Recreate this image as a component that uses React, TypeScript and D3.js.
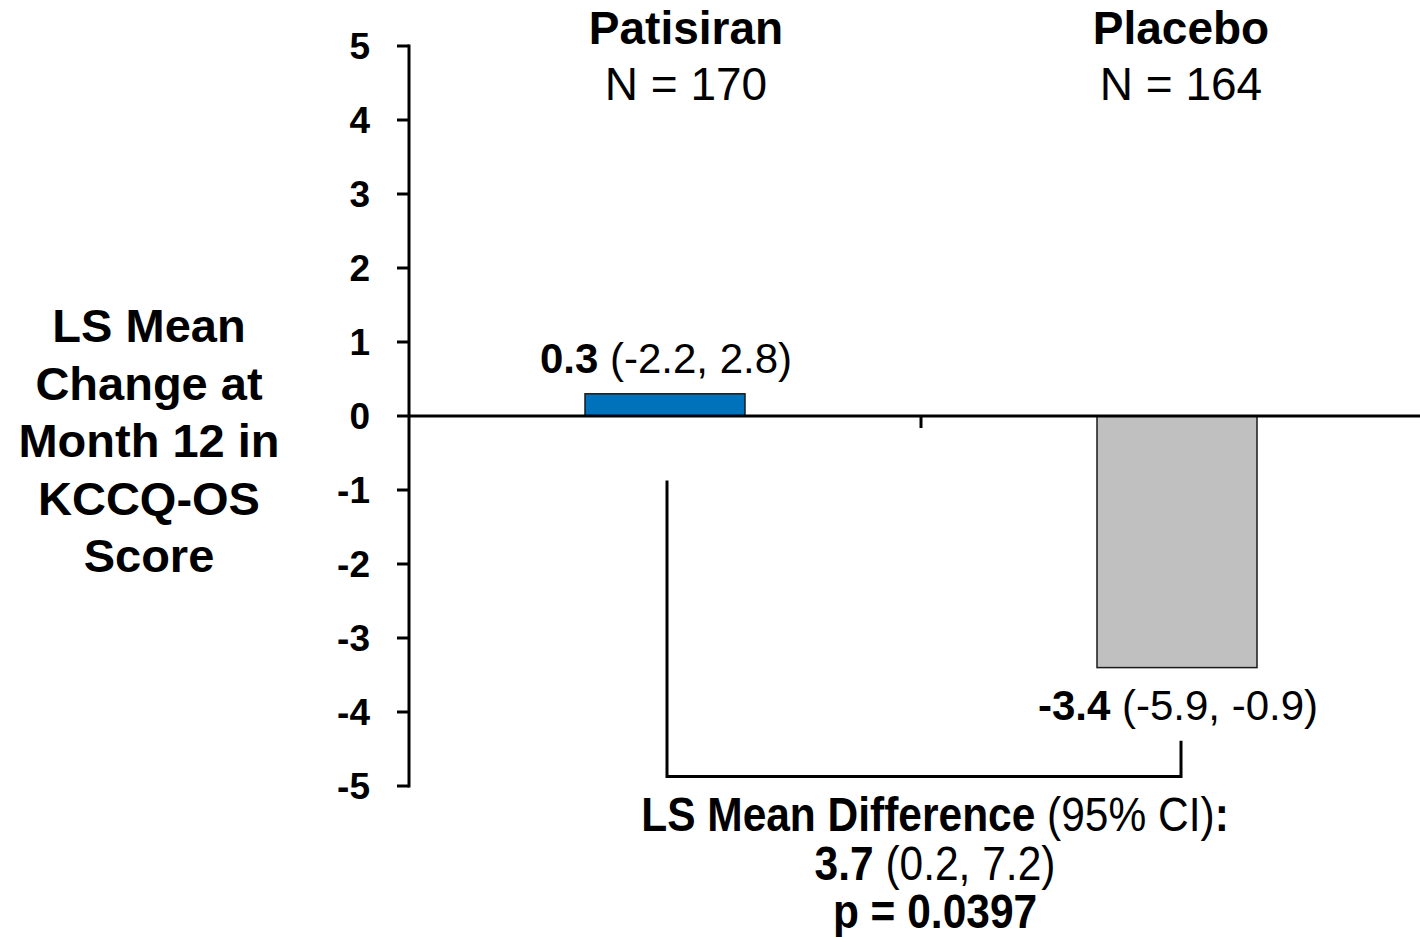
import React from "react";
import * as d3 from "d3";

// Treatment arms and their least-squares mean change with 95% CI
const arms = ["Patisiran", "Placebo"];
const armN = [170, 164];
const lsMean = [0.3, -3.4];
const ciLow = [-2.2, -5.9];
const ciHigh = [2.8, -0.9];
const barColors = ["#0072BC", "#C0C0C0"];

// Y axis ticks
const yTicks = [5, 4, 3, 2, 1, 0, -1, -2, -3, -4, -5];

// Treatment difference summary
const diffValue = 3.7;
const diffCiLow = 0.2;
const diffCiHigh = 7.2;
const pValue = "0.0397";

const yTitleLines = ["LS Mean", "Change at", "Month 12 in", "KCCQ-OS", "Score"];

const W = 1420;
const H = 937;
const FONT = "'Liberation Sans', Arial, Helvetica, sans-serif";

const fmt = (v: number) => v.toFixed(1);

export default function App() {
  const y = d3.scaleLinear().domain([-5, 5]).range([786, 46]);
  const x = d3.scaleBand().domain(arms).range([409, 1433]).paddingInner(0).paddingOuter(0);
  const barW = 160;
  const cx = (a: string) => (x(a) as number) + x.bandwidth() / 2;
  const axisX = 409;
  const zeroY = y(0);

  const headerShift = [21, 4];
  const bracketX = [cx(arms[0]) + 2, cx(arms[1]) + 4];
  const bracketBottom = y(-4.87);
  const bracketTopLeft = y(-0.87);
  const bracketTopRight = y(-4.39);

  return (
    <svg width={W} height={H} style={{ display: "block", position: "absolute", left: 0, top: 0 }} fontFamily={FONT}>
      <rect x={0} y={0} width={W} height={H} fill="#fff" />

      {/* Y axis title */}
      <text x={149} y={342} textAnchor="middle" fontSize={47} fontWeight="bold" fill="#000">
        {yTitleLines.map((l, i) => (
          <tspan key={i} x={149} y={342 + i * 57.5}>
            {l}
          </tspan>
        ))}
      </text>

      {/* Bars */}
      {arms.map((a, i) => {
        const v = lsMean[i];
        const top = y(Math.max(0, v));
        const bot = y(Math.min(0, v));
        return (
          <rect
            key={a}
            x={cx(a) - barW / 2}
            y={top}
            width={barW}
            height={bot - top}
            fill={barColors[i]}
            stroke="#1a1a1a"
            strokeWidth={1.5}
          />
        );
      })}

      {/* Y axis line and ticks */}
      <line x1={axisX} x2={axisX} y1={y(5) - 1.5} y2={y(-5) + 1.5} stroke="#000" strokeWidth={3} />
      {yTicks.map((t) => (
        <g key={t}>
          <line x1={axisX - 12} x2={axisX} y1={y(t)} y2={y(t)} stroke="#000" strokeWidth={3} />
          <text
            x={370}
            y={y(t)}
            dy="0.36em"
            textAnchor="end"
            fontSize={37}
            fontWeight="bold"
            fill="#000"
          >
            {t}
          </text>
        </g>
      ))}

      {/* Zero line with category separator */}
      <line x1={axisX} x2={W} y1={zeroY} y2={zeroY} stroke="#000" strokeWidth={3} />
      <line x1={x(arms[1]) as number} x2={x(arms[1]) as number} y1={zeroY} y2={zeroY + 12} stroke="#000" strokeWidth={3} />

      {/* Arm headers */}
      {arms.map((a, i) => (
        <g key={a}>
          <text x={cx(a) + headerShift[i]} y={44} textAnchor="middle" fontSize={46} fontWeight="bold" fill="#000">
            {a}
          </text>
          <text x={cx(a) + headerShift[i]} y={100} textAnchor="middle" fontSize={46} fill="#000">
            N = {armN[i]}
          </text>
        </g>
      ))}

      {/* Value labels */}
      {arms.map((a, i) => {
        const v = lsMean[i];
        const ly = v >= 0 ? y(v) - 21 : y(v) + 52;
        return (
          <text key={a} x={cx(a) + 1} y={ly} textAnchor="middle" fontSize={42} fill="#000">
            <tspan fontWeight="bold">{fmt(v)}</tspan>
            <tspan>{` (${fmt(ciLow[i])}, ${fmt(ciHigh[i])})`}</tspan>
          </text>
        );
      })}

      {/* Difference bracket */}
      <path
        d={`M${bracketX[0]},${bracketTopLeft}V${bracketBottom}H${bracketX[1]}V${bracketTopRight}`}
        fill="none"
        stroke="#000"
        strokeWidth={3}
      />

      {/* Difference summary (condensed lettering) */}
      <g transform="translate(935,0) scale(0.885,1)" fill="#000" fontSize={48}>
        <text x={0} y={831} textAnchor="middle">
          <tspan fontWeight="bold">LS Mean Difference</tspan>
          <tspan> (95% CI)</tspan>
          <tspan fontWeight="bold">:</tspan>
        </text>
        <text x={0} y={880} textAnchor="middle">
          <tspan fontWeight="bold">{fmt(diffValue)}</tspan>
          <tspan>{` (${fmt(diffCiLow)}, ${fmt(diffCiHigh)})`}</tspan>
        </text>
        <text x={0} y={928} textAnchor="middle" fontWeight="bold">
          p = {pValue}
        </text>
      </g>
    </svg>
  );
}
